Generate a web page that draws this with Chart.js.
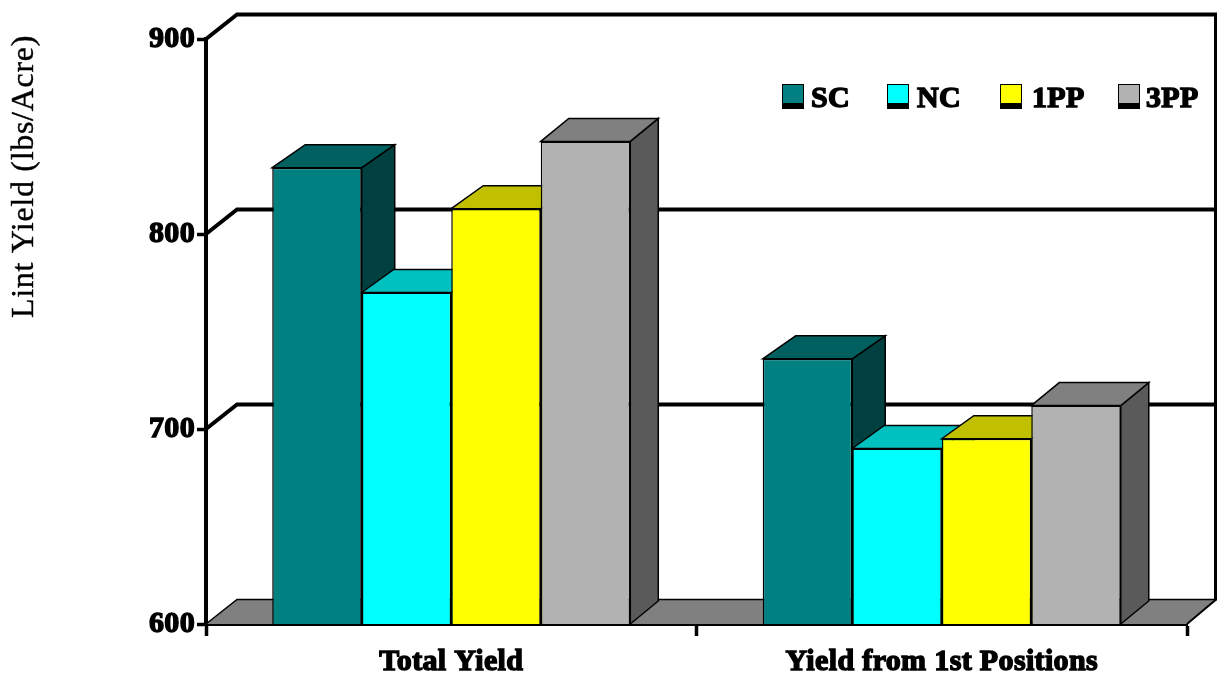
<!DOCTYPE html>
<html>
<head>
<meta charset="utf-8">
<style>
  html, body { margin: 0; padding: 0; background: #fff; }
  #wrap { width: 1217px; height: 677px; }
  #chart { filter: blur(0.45px); }
</style>
<script src="https://cdn.jsdelivr.net/npm/chart.js@4"></script>
</head>
<body>
<div id="wrap"><canvas id="chart"></canvas></div>
<script>
const categories = ['Total Yield', 'Yield from 1st Positions'];
const seriesNames = ['SC', 'NC', '1PP', '3PP'];
const scValues = [834, 736];
const ncValues = [770, 690];
const fppValues = [813, 695];
const sppValues = [847.5, 712];
const yAxisTitle = 'Lint Yield (lbs/Acre)';

const frontColors = ['#008080', '#00FFFF', '#FFFF00', '#B2B2B2'];
const topColors = ['#006060', '#00C0C0', '#C0C000', '#808080'];
const sideColors = ['#004040', '#00A0A0', '#A0A000', '#5A5A5A'];

const serifFont = '"Liberation Serif", "Times New Roman", serif';
const barDepth = [33, 32, 32, 28];
const barRise = 23;
const wallDx = 31;
const wallDy = 24.5;
const legendSwatchX = [782, 887, 1000, 1118];
const legendTextX = [811, 917, 1032, 1146];

function poly(ctx, pts, fill, stroke, width) {
    ctx.beginPath();
    pts.forEach((p, i) => i ? ctx.lineTo(p[0], p[1]) : ctx.moveTo(p[0], p[1]));
    ctx.closePath();
    if (fill) { ctx.fillStyle = fill; ctx.fill(); }
    if (stroke) { ctx.strokeStyle = stroke; ctx.lineWidth = width; ctx.stroke(); }
}

const depthPlugin = {
    id: 'depth',
    // the reference text is slightly letter-spaced
    beforeDraw(chart) {
        chart.ctx.letterSpacing = '0.35px';
    },
    // back wall, floor and the top/side faces of the bars, all behind the front faces
    beforeDatasetsDraw(chart) {
        const ctx = chart.ctx;
        const area = chart.chartArea;
        const y = chart.scales.y;
        ctx.save();
        ctx.lineJoin = 'miter';

        // floor
        poly(ctx, [
            [area.left, area.bottom],
            [area.left + wallDx, area.bottom - wallDy],
            [area.right + wallDx, area.bottom - wallDy],
            [area.right, area.bottom]
        ], '#808080', null);
        ctx.strokeStyle = '#000';
        ctx.lineWidth = 1.5;
        ctx.beginPath();
        ctx.moveTo(area.left, area.bottom);
        ctx.lineTo(area.left + wallDx, area.bottom - wallDy);
        ctx.lineTo(area.right + wallDx, area.bottom - wallDy);
        ctx.stroke();

        // gridlines run from the axis tick up to the back wall
        ctx.lineWidth = 4;
        y.ticks.forEach(t => {
            if (t.value === y.min) return;
            const py = y.getPixelForValue(t.value);
            ctx.beginPath();
            ctx.moveTo(area.left, py);
            ctx.lineTo(area.left + wallDx, py - wallDy);
            ctx.lineTo(area.right + wallDx, py - wallDy);
            ctx.stroke();
        });
        // right edge of wall
        ctx.beginPath();
        ctx.moveTo(area.right + wallDx - 2, area.top - wallDy);
        ctx.lineTo(area.right + wallDx - 2, area.bottom - wallDy);
        ctx.stroke();
        ctx.lineWidth = 2;
        ctx.beginPath();
        ctx.moveTo(area.right + wallDx - 2, area.bottom - wallDy);
        ctx.lineTo(area.right, area.bottom);
        ctx.stroke();

        categories.forEach((c, j) => {
            seriesNames.forEach((s, i) => {
                const bar = chart.getDatasetMeta(i).data[j];
                const l = bar.x - bar.width / 2;
                const r = bar.x + bar.width / 2;
                const d = barDepth[i];
                poly(ctx, [[r, bar.y], [r + d, bar.y - barRise], [r + d, area.bottom - barRise], [r, area.bottom]],
                    sideColors[i], '#000', 1.5);
                poly(ctx, [[l, bar.y], [l + d, bar.y - barRise], [r + d, bar.y - barRise], [r, bar.y]],
                    topColors[i], '#000', 1.5);
            });
        });
        ctx.restore();
    },
    afterDatasetsDraw(chart) {
        const ctx = chart.ctx;
        ctx.save();
        ctx.font = 'bold 30px ' + serifFont;
        ctx.textBaseline = 'alphabetic';
        seriesNames.forEach((name, i) => {
            ctx.fillStyle = '#000';
            ctx.fillRect(legendSwatchX[i], 84, 22, 25);
            ctx.fillStyle = frontColors[i];
            ctx.fillRect(legendSwatchX[i] + 1, 85, 20, 18);
            ctx.fillStyle = '#000';
            ctx.strokeStyle = '#000';
            ctx.lineWidth = 1.4;
            ctx.fillText(name, legendTextX[i], 107);
            ctx.strokeText(name, legendTextX[i], 107);
        });
        // axis title sits above the middle of the axis in the reference
        ctx.letterSpacing = '0.7px';
        ctx.font = '32px ' + serifFont;
        ctx.strokeStyle = '#000';
        ctx.lineWidth = 0.4;
        ctx.translate(25, 176.5);
        ctx.rotate(-Math.PI / 2);
        ctx.textAlign = 'center';
        ctx.textBaseline = 'middle';
        ctx.fillText(yAxisTitle, 0, 0);
        ctx.strokeText(yAxisTitle, 0, 0);
        ctx.restore();
    }
};

const allValues = [scValues, ncValues, fppValues, sppValues];

new Chart(document.getElementById('chart'), {
    type: 'bar',
    data: {
        labels: categories,
        datasets: seriesNames.map((name, i) => ({
            label: name,
            data: allValues[i],
            backgroundColor: frontColors[i],
            borderColor: '#000',
            borderWidth: 1.5,
            categoryPercentage: 0.73,
            barPercentage: 1
        }))
    },
    options: {
        responsive: true,
        maintainAspectRatio: false,
        animation: false,
        layout: { padding: { left: 0, right: 30, top: 39, bottom: 0 } },
        plugins: {
            legend: { display: false },
            tooltip: { enabled: false }
        },
        scales: {
            x: {
                afterFit: s => { s.height = 53; },
                border: { color: '#000', width: 4 },
                grid: { drawOnChartArea: false, color: '#000', tickColor: '#000', tickWidth: 3.5, tickLength: 12, offset: true },
                ticks: {
                    color: '#000',
                    padding: 8,
                    maxRotation: 0,
                    font: { family: serifFont, size: 30, weight: 'bold' },
                    textStrokeColor: '#000',
                    textStrokeWidth: 1.4
                }
            },
            y: {
                min: 600,
                max: 900,
                afterFit: s => { s.width = 206; },
                border: { color: '#000', width: 4 },
                grid: { drawOnChartArea: false, color: '#000', tickColor: '#000', tickWidth: 3.5, tickLength: 9 },
                ticks: {
                    stepSize: 100,
                    color: '#000',
                    padding: 2,
                    font: { family: serifFont, size: 30, weight: 'bold' },
                    textStrokeColor: '#000',
                    textStrokeWidth: 1.4
                }
            }
        }
    },
    plugins: [depthPlugin]
});
</script>
</body>
</html>
